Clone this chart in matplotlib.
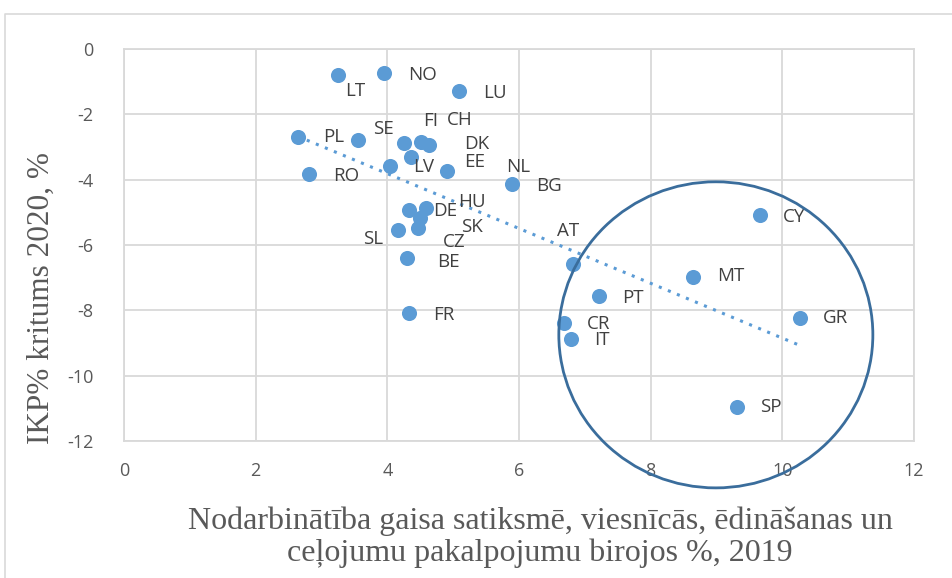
import numpy as np
import matplotlib.pyplot as plt
from matplotlib.patches import Ellipse
from matplotlib.lines import Line2D

plt.rcParams['axes.unicode_minus'] = False

# data
countries = ['LT', 'NO', 'LU', 'PL', 'SE', 'FI', 'CH', 'DK', 'NL', 'LV', 'EE', 'RO', 'BG',
             'DE', 'HU', 'SK', 'CZ', 'SL', 'BE', 'FR', 'AT', 'PT', 'MT', 'CY', 'GR', 'CR',
             'IT', 'SP']
employment = [3.25, 3.95, 5.09, 2.64, 3.55, 4.25, 4.51, 4.63, 4.36, 4.04, 4.91, 2.81, 5.89,
              4.33, 4.59, 4.50, 4.47, 4.16, 4.30, 4.33, 6.82, 7.22, 8.64, 9.66, 10.27, 6.68,
              6.79, 9.31]
gdp_drop = [-0.80, -0.73, -1.29, -2.69, -2.79, -2.88, -2.85, -2.94, -3.31, -3.58, -3.73, -3.83,
            -4.13, -4.93, -4.87, -5.17, -5.48, -5.54, -6.40, -8.08, -6.58, -7.56, -6.98, -5.08,
            -8.23, -8.39, -8.88, -10.96]

# label placement (pixel offsets from the marker, left edge / vertical centre)
label_off = {
    'LT': (7, -16), 'NO': (24, -2), 'LU': (24, -2), 'PL': (25, 0), 'SE': (15, 11),
    'FI': (19, 22), 'CH': (26, 22), 'DK': (35, 1), 'NL': (95, -10), 'LV': (23, -1),
    'EE': (17, 9), 'RO': (24, -2), 'BG': (24, -2), 'DE': (24, -1), 'HU': (32, 6),
    'SK': (41, -9), 'CZ': (25, -14), 'SL': (-35, -9), 'BE': (30, -4), 'FR': (24, -2),
    'AT': (-16, 33), 'PT': (23, -2), 'MT': (24, 1), 'CY': (23, -2), 'GR': (23, 0),
    'CR': (23, -1), 'IT': (23, -1), 'SP': (23, 0),
}

blue = '#5B9BD5'
grid_c = '#D9D9D9'
text_c = '#595959'

fig = plt.figure(figsize=(9.52, 5.78), dpi=100)
ax = fig.add_axes([124/952, 1 - 441/578, (914-124)/952, (441-49)/578])

ax.scatter(employment, gdp_drop, s=118, color=blue, zorder=3, linewidths=0)

# linear trendline (like excel), from min x to max x
k, b = np.polyfit(employment, gdp_drop, 1)
xt = np.array([min(employment), max(employment)])
ax.plot(xt, k*xt + b, linestyle=(0, (1, 2.2)), color=blue, lw=2.2, zorder=2)

for c, x, y in zip(countries, employment, gdp_drop):
    dx, dy = label_off[c]
    ax.annotate(c, (x, y), xytext=(dx, dy), textcoords='offset pixels',
                ha='left', va='center', fontsize=13.5, color='#404040',
                family='Open Sans', zorder=4)

# highlighted group
ax.add_patch(Ellipse((8.99, -8.75), 4.77, 9.37, fill=False, ec='#3A6D9C', lw=2,
                     clip_on=False, zorder=5))

ax.set_xlim(0, 12)
ax.set_ylim(-12, 0)
ax.set_xticks(range(0, 13, 2))
ax.set_yticks(range(-12, 1, 2))
ax.grid(True, color=grid_c, lw=1.3)
ax.set_axisbelow(True)
for s in ax.spines.values():
    s.set_color(grid_c)
    s.set_linewidth(1.3)
ax.tick_params(length=0, labelsize=13, labelcolor=text_c)
ax.tick_params(axis='x', pad=15)
ax.tick_params(axis='y', pad=22)
for t in ax.get_xticklabels() + ax.get_yticklabels():
    t.set_family('Open Sans')

fig.text(41/952, 1 - 298/578, 'IKP% kritums 2020, %', rotation=90, ha='center', va='center',
         fontsize=22.5, color=text_c, family='Liberation Serif')
fig.text(540/952, 1 - 537/578,
         'Nodarbinātība gaisa satiksmē, viesnīcās, ēdināšanas un\nceļojumu pakalpojumu birojos %, 2019',
         ha='center', va='center', fontsize=23, color=text_c, family='Liberation Serif',
         linespacing=1.12)

# chart area border (left and top edges visible)
fig.add_artist(Line2D([5/952, 5/952, 1.0], [0.0, 1 - 14/578, 1 - 14/578],
                      transform=fig.transFigure, color=grid_c, lw=1.2))

fig.savefig('out.png', dpi=100)
